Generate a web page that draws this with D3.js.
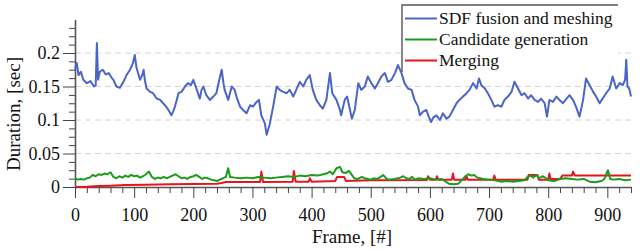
<!DOCTYPE html>
<html>
<head>
<meta charset="utf-8">
<script src="https://cdn.jsdelivr.net/npm/d3@7"></script>
<style>
  body { margin: 0; background: #fff; }
  svg { display: block; }
  svg text { font-family: "Liberation Serif", "DejaVu Serif", serif; }
</style>
</head>
<body>
<div id="chart"></div>
<script>
// SDF fusion and meshing (blue)
var sdfFrames = [0, 3, 6, 10, 14, 20, 26, 32, 35, 37, 39, 42, 47, 52, 57, 62, 65, 70, 76, 82, 87, 93, 98, 101, 104, 110, 114, 116, 118, 121, 127, 132, 138, 144, 149, 154, 158, 163, 166, 169, 175, 180, 186, 191, 196, 200, 206, 211, 214, 217, 222, 228, 234, 239, 244, 248, 251, 253, 259, 265, 270, 273, 279, 284, 290, 296, 301, 307, 311, 315, 321, 324, 329, 335, 341, 346, 352, 358, 363, 369, 374, 380, 386, 391, 397, 402, 408, 414, 419, 425, 431, 435, 442, 448, 450, 456, 460, 465, 468, 473, 479, 484, 490, 495, 501, 507, 512, 518, 524, 529, 535, 541, 546, 552, 557, 563, 569, 574, 580, 583, 588, 594, 598, 602, 606, 611, 617, 622, 628, 633, 639, 645, 650, 656, 662, 667, 673, 679, 683, 687, 693, 698, 704, 709, 715, 721, 726, 732, 738, 743, 749, 755, 760, 766, 771, 777, 783, 788, 794, 798, 802, 808, 814, 819, 825, 831, 836, 842, 847, 853, 859, 864, 870, 876, 881, 887, 892, 898, 904, 909, 915, 921, 926, 930, 932, 934, 937, 940];
var sdfValues = [0.175, 0.185, 0.167, 0.172, 0.16, 0.155, 0.158, 0.15, 0.152, 0.215, 0.16, 0.172, 0.175, 0.168, 0.17, 0.163, 0.16, 0.15, 0.148, 0.157, 0.167, 0.175, 0.185, 0.197, 0.178, 0.16, 0.168, 0.175, 0.16, 0.147, 0.142, 0.14, 0.132, 0.13, 0.125, 0.12, 0.115, 0.107, 0.113, 0.12, 0.14, 0.142, 0.15, 0.155, 0.152, 0.16, 0.145, 0.132, 0.145, 0.15, 0.137, 0.13, 0.135, 0.14, 0.16, 0.175, 0.155, 0.145, 0.13, 0.15, 0.145, 0.135, 0.12, 0.115, 0.11, 0.122, 0.12, 0.127, 0.13, 0.107, 0.095, 0.078, 0.093, 0.12, 0.15, 0.145, 0.142, 0.14, 0.145, 0.135, 0.145, 0.157, 0.15, 0.16, 0.167, 0.145, 0.13, 0.122, 0.117, 0.13, 0.17, 0.14, 0.13, 0.115, 0.107, 0.13, 0.135, 0.115, 0.102, 0.115, 0.155, 0.145, 0.15, 0.165, 0.155, 0.147, 0.155, 0.165, 0.17, 0.157, 0.16, 0.17, 0.182, 0.17, 0.155, 0.147, 0.145, 0.13, 0.12, 0.107, 0.112, 0.115, 0.105, 0.097, 0.104, 0.107, 0.1, 0.11, 0.102, 0.105, 0.115, 0.125, 0.13, 0.135, 0.14, 0.145, 0.155, 0.147, 0.162, 0.152, 0.147, 0.14, 0.13, 0.12, 0.122, 0.12, 0.13, 0.135, 0.142, 0.157, 0.147, 0.137, 0.14, 0.132, 0.137, 0.13, 0.127, 0.132, 0.125, 0.105, 0.13, 0.127, 0.135, 0.13, 0.125, 0.132, 0.137, 0.13, 0.12, 0.105, 0.13, 0.162, 0.152, 0.142, 0.135, 0.125, 0.132, 0.14, 0.147, 0.165, 0.147, 0.155, 0.152, 0.16, 0.19, 0.15, 0.147, 0.135];

// Candidate generation (green)
var candFrames = [0, 5, 10, 15, 20, 25, 30, 35, 40, 45, 50, 55, 60, 65, 70, 75, 80, 85, 90, 95, 100, 105, 110, 115, 120, 125, 130, 135, 140, 145, 150, 155, 160, 165, 170, 175, 180, 185, 190, 195, 200, 205, 210, 215, 220, 225, 230, 235, 240, 245, 250, 255, 259, 262, 270, 280, 290, 300, 310, 320, 330, 340, 350, 360, 370, 380, 390, 400, 410, 420, 425, 431, 436, 442, 448, 452, 458, 463, 468, 472, 478, 485, 490, 495, 500, 505, 510, 515, 521, 526, 530, 540, 550, 555, 560, 565, 570, 575, 580, 590, 600, 610, 620, 625, 632, 640, 648, 655, 660, 665, 670, 675, 680, 685, 690, 700, 710, 720, 730, 740, 750, 760, 765, 770, 775, 780, 785, 790, 795, 800, 810, 820, 830, 840, 850, 860, 870, 880, 890, 895, 901, 905, 910, 920, 930, 940];
var candValues = [0.013, 0.011, 0.012, 0.011, 0.013, 0.014, 0.018, 0.016, 0.019, 0.018, 0.02, 0.019, 0.022, 0.015, 0.013, 0.016, 0.014, 0.017, 0.015, 0.018, 0.016, 0.017, 0.014, 0.016, 0.019, 0.023, 0.015, 0.012, 0.014, 0.013, 0.015, 0.013, 0.015, 0.017, 0.019, 0.016, 0.013, 0.014, 0.012, 0.015, 0.016, 0.018, 0.015, 0.012, 0.014, 0.013, 0.011, 0.01, 0.009, 0.011, 0.013, 0.015, 0.028, 0.015, 0.014, 0.013, 0.014, 0.013, 0.015, 0.014, 0.013, 0.014, 0.015, 0.016, 0.015, 0.017, 0.016, 0.018, 0.017, 0.019, 0.02, 0.023, 0.019, 0.028, 0.03, 0.022, 0.021, 0.024, 0.018, 0.013, 0.012, 0.015, 0.013, 0.012, 0.011, 0.013, 0.012, 0.014, 0.018, 0.013, 0.011, 0.012, 0.014, 0.016, 0.013, 0.012, 0.015, 0.011, 0.013, 0.012, 0.013, 0.011, 0.012, 0.009, 0.005, 0.004, 0.005, 0.011, 0.016, 0.019, 0.017, 0.018, 0.014, 0.013, 0.012, 0.011, 0.01, 0.008, 0.009, 0.008, 0.009, 0.01, 0.015, 0.017, 0.014, 0.018, 0.013, 0.016, 0.014, 0.01, 0.009, 0.012, 0.013, 0.012, 0.011, 0.012, 0.008, 0.007, 0.009, 0.012, 0.025, 0.012, 0.011, 0.012, 0.01, 0.011];

// Merging (red)
var mergeFrames = [0, 20, 40, 60, 85, 120, 160, 200, 240, 248, 255, 300, 313, 315, 318, 368, 370, 373, 395, 397, 400, 440, 443, 455, 458, 500, 595, 597, 600, 610, 612, 614, 637, 639, 641, 660, 662, 664, 707, 709, 711, 765, 767, 782, 784, 800, 802, 804, 820, 824, 840, 842, 845, 900, 940];
var mergeValues = [0.0, 0.0005, 0.0015, 0.002, 0.003, 0.0035, 0.004, 0.0045, 0.005, 0.006, 0.0075, 0.0075, 0.0075, 0.023, 0.0075, 0.008, 0.024, 0.008, 0.008, 0.013, 0.008, 0.009, 0.015, 0.015, 0.009, 0.01, 0.0105, 0.016, 0.011, 0.011, 0.016, 0.011, 0.011, 0.02, 0.011, 0.011, 0.016, 0.011, 0.011, 0.017, 0.011, 0.011, 0.018, 0.018, 0.011, 0.011, 0.02, 0.012, 0.012, 0.017, 0.017, 0.023, 0.017, 0.017, 0.017];

var seriesNames = ["SDF fusion and meshing", "Candidate generation", "Merging"];
var xTicks = [0, 100, 200, 300, 400, 500, 600, 700, 800, 900];
var yTicks = [0, 0.05, 0.1, 0.15, 0.2];
var yTickLabels = ["0", "0.05", "0.1", "0.15", "0.2"];
var yGrid = [0.05, 0.1, 0.15, 0.2];

var width = 640;
var height = 250;
var serif = "'Liberation Serif', 'DejaVu Serif', serif";
var color = d3.scaleOrdinal()
    .domain(seriesNames)
    .range(["#4a64c8", "#1a9c1a", "#e8141c"]);

var svg = d3.select("#chart")
    .append("svg")
    .attr("width", width)
    .attr("height", height);

var xScale = d3.scaleLinear().domain([0, 940]).range([75, 631]);
var yScale = d3.scaleLinear().domain([0, 0.25]).range([187, 19.5]);

// dashed grid lines
svg.selectAll("line.grid")
    .data(yGrid)
    .enter()
    .append("line")
    .attr("class", "grid")
    .attr("x1", xScale(0))
    .attr("x2", xScale(940))
    .attr("y1", d => yScale(d))
    .attr("y2", d => yScale(d))
    .attr("stroke", "#d4d4d4")
    .attr("stroke-width", 1)
    .attr("stroke-dasharray", "6,4");

// minor ticks
var xMinor = d3.range(0, 941, 20).filter(d => d % 100 !== 0);
var yMinor = d3.range(0, 21).map(i => i * 0.0125).filter(d => Math.abs(d / 0.05 - Math.round(d / 0.05)) > 1e-6);

svg.append("g")
    .attr("transform", `translate(0, ${yScale(0)})`)
    .call(d3.axisBottom(xScale).tickValues(xMinor).tickSize(6).tickFormat(""))
    .call(g => g.select(".domain").remove())
    .selectAll("line").attr("stroke", "#444");

svg.append("g")
    .attr("transform", `translate(${xScale(0)}, 0)`)
    .call(d3.axisLeft(yScale).tickValues(yMinor).tickSize(6).tickFormat(""))
    .call(g => g.select(".domain").remove())
    .selectAll("line").attr("stroke", "#444");

// main axes
var xAxis = svg.append("g")
    .attr("transform", `translate(0, ${yScale(0)})`)
    .call(d3.axisBottom(xScale).tickValues(xTicks).tickSize(11).tickSizeOuter(0).tickPadding(10).tickFormat(d3.format("d")));

var yAxis = svg.append("g")
    .attr("transform", `translate(${xScale(0)}, 0)`)
    .call(d3.axisLeft(yScale).tickValues(yTicks).tickSize(12).tickSizeOuter(0).tickPadding(3)
        .tickFormat((d, i) => yTickLabels[i]));

[xAxis, yAxis].forEach(function (ax) {
    ax.attr("font-family", serif).attr("font-size", 18);
    ax.select(".domain").attr("stroke", "#555").attr("stroke-width", 1.6);
    ax.selectAll(".tick line").attr("stroke", "#444");
    ax.selectAll(".tick text").attr("fill", "#111");
});

// series lines
var seriesData = [
    sdfFrames.map((f, i) => ({ f: f, v: sdfValues[i] })),
    candFrames.map((f, i) => ({ f: f, v: candValues[i] })),
    mergeFrames.map((f, i) => ({ f: f, v: mergeValues[i] }))
];

var line = d3.line()
    .x(d => xScale(d.f))
    .y(d => yScale(d.v));

[2, 1, 0].forEach(function (k) {
    svg.append("path")
        .datum(seriesData[k])
        .attr("fill", "none")
        .attr("stroke", color(seriesNames[k]))
        .attr("stroke-width", 2)
        .attr("stroke-linejoin", "round")
        .attr("d", line);
});

// axis titles
svg.append("text")
    .attr("transform", "rotate(-90)")
    .attr("x", -114)
    .attr("y", 20)
    .attr("text-anchor", "middle")
    .attr("font-family", serif)
    .attr("font-size", 19)
    .attr("fill", "#111")
    .text("Duration, [sec]");

svg.append("text")
    .attr("x", 352)
    .attr("y", 243)
    .attr("text-anchor", "middle")
    .attr("font-family", serif)
    .attr("font-size", 19)
    .attr("fill", "#111")
    .text("Frame, [#]");

// legend
var legend = svg.append("g").attr("class", "legend");

legend.append("rect")
    .attr("x", 402)
    .attr("y", 5)
    .attr("width", 216)
    .attr("height", 67)
    .attr("fill", "#fff");

legend.append("path")
    .attr("d", "M402,72V5H618")
    .attr("fill", "none")
    .attr("stroke", "#555")
    .attr("stroke-width", 1.4);

legend.selectAll("line.key")
    .data(seriesNames)
    .enter()
    .append("line")
    .attr("class", "key")
    .attr("x1", 405)
    .attr("x2", 437)
    .attr("y1", (d, i) => 18.5 + i * 21)
    .attr("y2", (d, i) => 18.5 + i * 21)
    .attr("stroke", color)
    .attr("stroke-width", 2);

legend.selectAll("text")
    .data(seriesNames)
    .enter()
    .append("text")
    .attr("x", 439)
    .attr("y", (d, i) => 18.5 + i * 21)
    .attr("dy", "0.32em")
    .attr("font-family", serif)
    .attr("font-size", 17.5)
    .attr("fill", "#111")
    .text(d => d);
</script>
</body>
</html>
